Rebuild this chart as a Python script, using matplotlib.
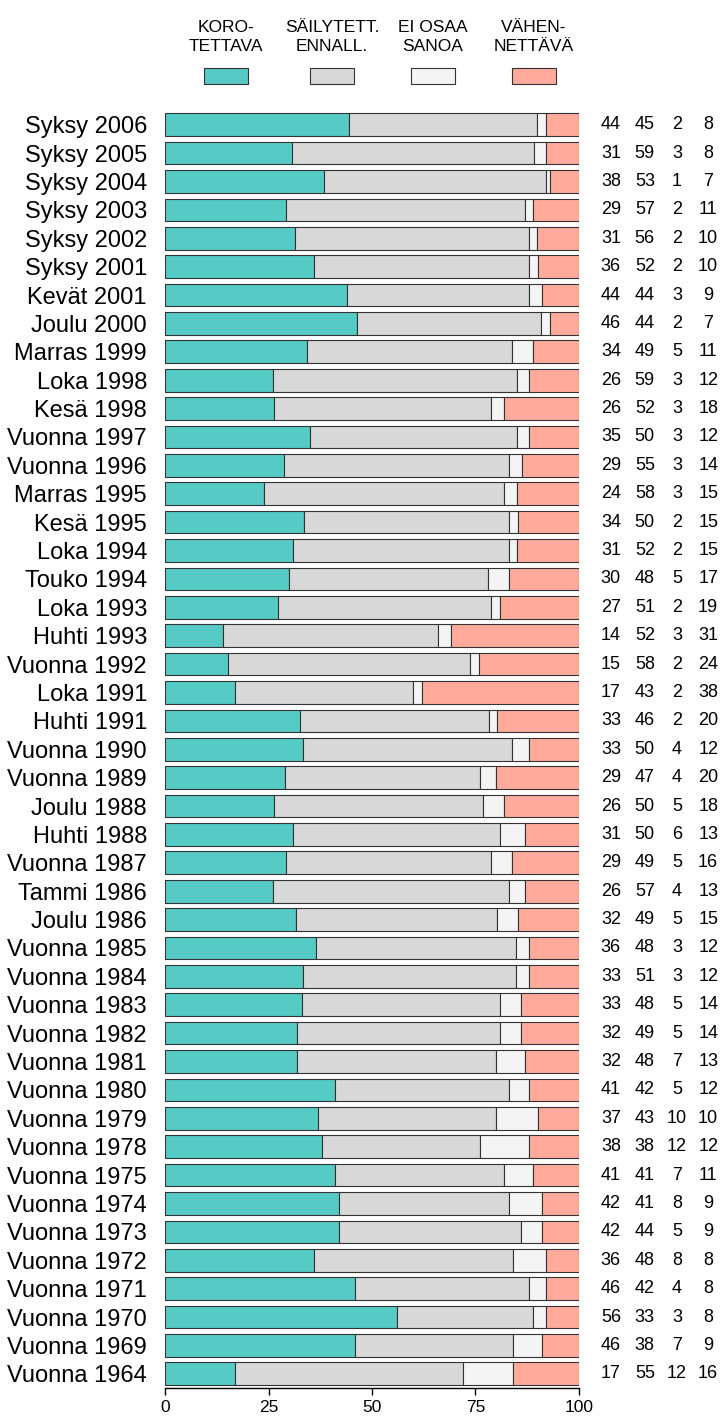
import matplotlib
matplotlib.use("Agg")
import matplotlib.pyplot as plt
from matplotlib.patches import Rectangle
import numpy as np

plt.rcParams["font.family"] = ["Liberation Sans", "DejaVu Sans"]

# Kyselyajankohdat ja vastaukset (%)
ajankohdat = [
    "Syksy 2006", "Syksy 2005", "Syksy 2004", "Syksy 2003", "Syksy 2002",
    "Syksy 2001", "Kevät 2001", "Joulu 2000", "Marras 1999", "Loka 1998",
    "Kesä 1998", "Vuonna 1997", "Vuonna 1996", "Marras 1995", "Kesä 1995",
    "Loka 1994", "Touko 1994", "Loka 1993", "Huhti 1993", "Vuonna 1992",
    "Loka 1991", "Huhti 1991", "Vuonna 1990", "Vuonna 1989", "Joulu 1988",
    "Huhti 1988", "Vuonna 1987", "Tammi 1986", "Joulu 1986", "Vuonna 1985",
    "Vuonna 1984", "Vuonna 1983", "Vuonna 1982", "Vuonna 1981", "Vuonna 1980",
    "Vuonna 1979", "Vuonna 1978", "Vuonna 1975", "Vuonna 1974", "Vuonna 1973",
    "Vuonna 1972", "Vuonna 1971", "Vuonna 1970", "Vuonna 1969", "Vuonna 1964",
]
korotettava = [44, 31, 38, 29, 31, 36, 44, 46, 34, 26, 26, 35, 29, 24, 34,
               31, 30, 27, 14, 15, 17, 33, 33, 29, 26, 31, 29, 26, 32, 36,
               33, 33, 32, 32, 41, 37, 38, 41, 42, 42, 36, 46, 56, 46, 17]
sailytett = [45, 59, 53, 57, 56, 52, 44, 44, 49, 59, 52, 50, 55, 58, 50,
             52, 48, 51, 52, 58, 43, 46, 50, 47, 50, 50, 49, 57, 49, 48,
             51, 48, 49, 48, 42, 43, 38, 41, 41, 44, 48, 42, 33, 38, 55]
ei_osaa = [2, 3, 1, 2, 2, 2, 3, 2, 5, 3, 3, 3, 3, 3, 2,
           2, 5, 2, 3, 2, 2, 2, 4, 4, 5, 6, 5, 4, 5, 3,
           3, 5, 5, 7, 5, 10, 12, 7, 8, 5, 8, 4, 3, 7, 12]
vahennettava = [8, 8, 7, 11, 10, 10, 9, 7, 11, 12, 18, 12, 14, 15, 15,
                15, 17, 19, 31, 24, 38, 20, 12, 20, 18, 13, 16, 13, 15, 12,
                12, 14, 14, 13, 12, 10, 12, 11, 9, 9, 8, 8, 8, 9, 16]

sarjat = [korotettava, sailytett, ei_osaa, vahennettava]
otsikot = ["KORO-\nTETTAVA", "SÄILYTETT.\nENNALL.", "EI OSAA\nSANOA", "VÄHEN-\nNETTÄVÄ"]
varit = ["#56CBC5", "#D8D8D8", "#F4F4F4", "#FFAB9C"]

arvot = np.array(sarjat, dtype=float)
osuudet = arvot / arvot.sum(axis=0) * 100
n = len(ajankohdat)
y = np.arange(n)

fig = plt.figure(figsize=(7.2, 14.19), dpi=100)
ax = fig.add_axes([165 / 720, 1 - 1388 / 1419, 414 / 720, (1388 - 110.5) / 1419])

vasen = np.zeros(n)
for osuus, vari in zip(osuudet, varit):
    ax.barh(y, osuus, left=vasen, height=0.8, color=vari,
            edgecolor="#333333", linewidth=0.8)
    vasen += osuus

# Luvut oikealla
sarake_x = [107.7, 115.9, 123.7, 131.2]
for sarja, sx in zip(sarjat, sarake_x):
    for i, v in enumerate(sarja):
        ax.text(sx, i, str(v), ha="center", va="center", fontsize=13,
                clip_on=False)

ax.set_xlim(0, 100)
ax.set_ylim(n - 0.5, -0.5)
ax.set_yticks(y)
ax.set_yticklabels(ajankohdat, fontsize=17)
ax.tick_params(axis="y", length=0, pad=13)
ax.set_xticks([0, 25, 50, 75, 100])
ax.tick_params(axis="x", length=5, width=1, labelsize=12.5, pad=4)
for s in ["top", "right", "left"]:
    ax.spines[s].set_visible(False)
ax.spines["bottom"].set_linewidth(1)

# Selite ylhäällä
selite_x = [226, 332, 433, 534]
for otsikko, vari, cx in zip(otsikot, varit, selite_x):
    fig.text(cx / 720, 1 - 37 / 1419, otsikko, ha="center", va="center",
             fontsize=12.5, linespacing=1.35)
    fig.add_artist(Rectangle(((cx - 22) / 720, 1 - 84 / 1419), 44 / 720, 16 / 1419,
                             transform=fig.transFigure, facecolor=vari,
                             edgecolor="#333333", linewidth=0.8))

fig.savefig("out.png", dpi=100)
